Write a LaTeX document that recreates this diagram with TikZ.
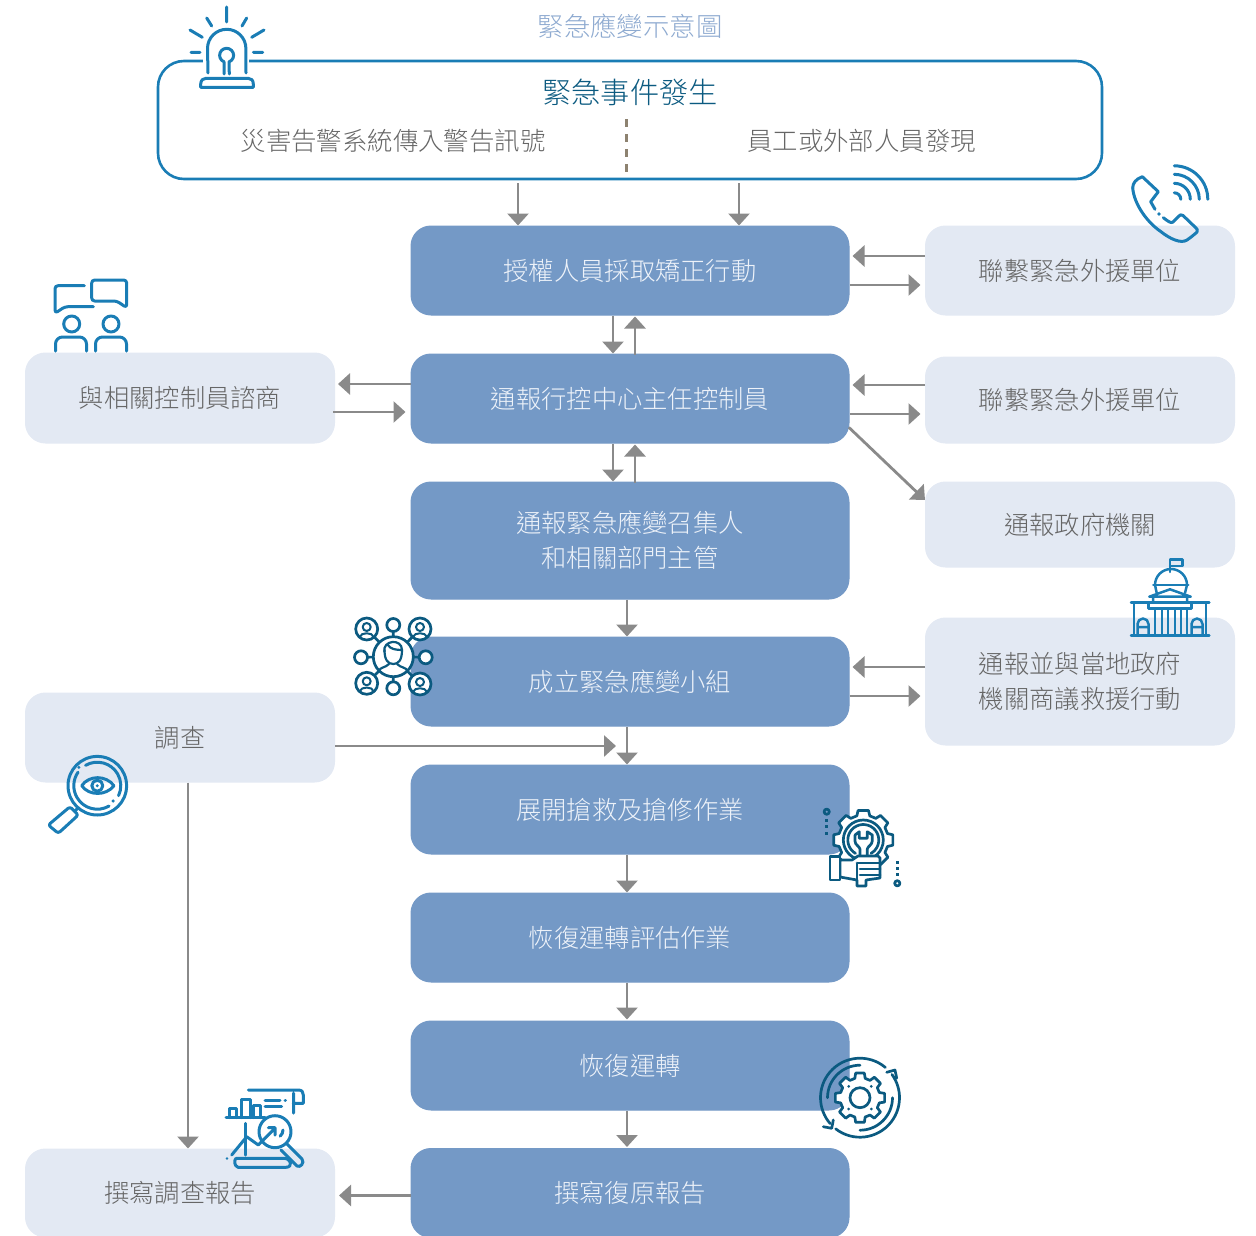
\documentclass[tikz,border=0pt]{standalone}
\usepackage{fontspec}
\setmainfont{Noto Sans CJK TC}[UprightFont=* Light]
\usetikzlibrary{arrows.meta,calc}
\definecolor{boxblue}{HTML}{7499C6}
\definecolor{boxlight}{HTML}{E3E9F3}
\definecolor{arrowgrey}{HTML}{8A8A8A}
\definecolor{textgrey}{HTML}{666666}
\definecolor{iconblue}{HTML}{1A7DB5}
\definecolor{icondark}{HTML}{0B5A80}
\definecolor{titleblue}{HTML}{8EAAD0}
\definecolor{bluetext}{HTML}{EDF2F9}
\definecolor{dashcol}{HTML}{8D8270}
\tikzset{
  x=1pt,y=-1pt,
  bluebox/.style={fill=boxblue,draw=boxblue,line width=1pt,rounded corners=20pt,minimum width=438pt,text=bluetext,inner sep=0pt,align=center,font=\fontsize{25.3}{35}\selectfont},
  lightbox/.style={fill=boxlight,draw=boxlight,line width=1pt,rounded corners=20pt,minimum width=309pt,text=textgrey,inner sep=0pt,align=center,font=\fontsize{25.3}{35}\selectfont},
  arr/.style={draw=arrowgrey,line width=2.8pt,-{Triangle[width=21pt,length=12pt]}},
  lab/.style={inner sep=0pt,text=textgrey,font=\fontsize{25.4}{30}\selectfont},
  iconb/.style={draw=iconblue,line width=3pt,line cap=round,line join=round},
  icond/.style={draw=icondark,line width=2.7pt,line cap=round,line join=round},
  gov/.style={iconb,line width=2.5pt},
}
\begin{document}
\begin{tikzpicture}
\useasboundingbox (0,0) rectangle (1256,1236);
% --- top frame
\node[draw=iconblue,line width=2.6pt,rounded corners=26pt,minimum width=944pt,minimum height=118pt,inner sep=0pt] (top) at (630,120) {};
\node[inner sep=0pt,text=titleblue,font=\fontsize{26.4}{30}\selectfont] (title) at (630,26) {緊急應變示意圖};
\node[inner sep=0pt,text=icondark,font=\fontsize{29.2}{34}\selectfont] (event) at (630,92) {緊急事件發生};
\node[lab] (sys) at (393,140.5) {災害告警系統傳入警告訊號};
\node[lab] (staff) at (861.5,140.5) {員工或外部人員發現};
\coordinate (da) at (626,119.5);
\coordinate (db) at (626,173);
\draw[draw=dashcol,line width=3pt,dash pattern=on 8pt off 7pt] (da) -- (db);
% --- centre column
\node[bluebox,minimum height=89pt] (b1) at (630,270.5) {\raisebox{-1pt}{授權人員採取矯正行動}};
\node[bluebox,minimum height=89pt] (b2) at (630,398.5) {通報行控中心主任控制員};
\node[bluebox,minimum height=117pt] (b3) at (630,540.5) {通報緊急應變召集人\\和相關部門主管};
\node[bluebox,minimum height=89pt] (b4) at (630,681.5) {成立緊急應變小組};
\node[bluebox,minimum height=89pt] (b5) at (630,809.5) {展開搶救及搶修作業};
\node[bluebox,minimum height=89pt] (b6) at (630,937.5) {恢復運轉評估作業};
\node[bluebox,minimum height=89pt] (b7) at (630,1065.5) {恢復運轉};
\node[bluebox,minimum height=89pt] (b8) at (630,1193) {\raisebox{-1pt}{撰寫復原報告}};
% --- right column
\node[lightbox,minimum height=89pt] (r1) at (1080,270.5) {\raisebox{-1pt}{聯繫緊急外援單位}};
\node[lightbox,minimum height=86pt] (r2) at (1080,400) {聯繫緊急外援單位};
\node[lightbox,minimum height=85pt] (r3) at (1080,524.5) {通報政府機關};
\node[lightbox,minimum height=127pt] (r4) at (1080,681.5) {通報並與當地政府\\機關商議救援行動};
% --- left column
\node[lightbox,minimum height=90pt] (l1) at (180,398) {與相關控制員諮商};
\node[lightbox,minimum height=89pt] (l2) at (180,737.5) {調查};
\node[lightbox,minimum height=88pt] (l3) at (180,1193) {\raisebox{-1pt}{撰寫調查報告}};
% --- connectors
\draw[arr] ([xshift=-112pt,yshift=-3pt]top.south) -- ([xshift=-112pt]b1.north);
\draw[arr] ([xshift=109pt,yshift=-3pt]top.south) -- ([xshift=109pt]b1.north);
\draw[arr] ([yshift=14.5pt]r1.west) -- ([yshift=14.5pt,xshift=3pt]b1.east);
\draw[arr] ([yshift=-14.5pt]b1.east) -- ([yshift=-14.5pt,xshift=-4.5pt]r1.west);
\draw[arr] ([xshift=-17pt]b1.south) -- ([xshift=-17pt]b2.north);
\draw[arr] ([xshift=5pt,yshift=-1pt]b2.north) -- ([xshift=5pt,yshift=-1pt]b1.south);
\draw[arr] ([yshift=14.5pt]b2.west) -- ([yshift=14pt,xshift=3pt]l1.east);
\draw[arr] ([yshift=-14pt,xshift=-2pt]l1.east) -- ([yshift=-13.5pt,xshift=-5pt]b2.west);
\draw[arr] ([yshift=15pt]r2.west) -- ([yshift=13.5pt,xshift=3pt]b2.east);
\draw[arr] ([yshift=-15.5pt]b2.east) -- ([yshift=-14pt,xshift=-4.5pt]r2.west);
\draw[arr] ([xshift=-17pt]b2.south) -- ([xshift=-17pt]b3.north);
\draw[arr] ([xshift=5pt,yshift=-1pt]b3.north) -- ([xshift=5pt,yshift=-1pt]b2.south);
\draw[arr,shorten <=-1pt] ([yshift=-29.5pt]b2.east) -- ([yshift=24.5pt]r3.west);
\draw[arr] ([xshift=-3pt]b3.south) -- ([xshift=-3pt]b4.north);
\draw[arr] ([yshift=14.5pt]r4.west) -- ([yshift=14.5pt,xshift=3pt]b4.east);
\draw[arr] ([yshift=-14.5pt]b4.east) -- ([yshift=-14.5pt,xshift=-4.5pt]r4.west);
\draw[arr] ([xshift=-3pt]b4.south) -- ([xshift=-3pt]b5.north);
\coordinate (join) at (616,746);
\draw[arr] ([yshift=-8.5pt]l2.east) -- (join);
\draw[arr] ([xshift=-3pt]b5.south) -- ([xshift=-3pt]b6.north);
\draw[arr] ([xshift=-3pt]b6.south) -- ([xshift=-3pt,yshift=1pt]b7.north);
\draw[arr] ([xshift=-3pt]b7.south) -- ([xshift=-3pt,yshift=1pt]b8.north);
\draw[arr] ([xshift=8pt]l2.south) -- ([xshift=8pt]l3.north);
\draw[arr] ([yshift=-2.5pt]b8.west) -- ([xshift=4pt,yshift=-2.5pt]l3.east);
% --- alarm icon
\fill[white] (203,57) rectangle (249,65);
\draw[iconb] (226.7,7)--(226.7,22) (206.7,18)--(211.7,26) (246.7,18)--(242,26)
  (190,30)--(202.3,37.3) (264,30)--(251.7,37.3) (191,52.3)--(200,52.3) (253.3,52.3)--(262.7,52.3);
\draw[iconb] (208,73)--(207.5,48.5) arc (180:360:19.2) --(246,73);
\draw[iconb] (224,74)--(224,61.8) arc (112:430:7) --(229.3,74);
\draw[iconb] (200.7,87.3)--(200.7,84) .. controls (201,80) and (203,78.3) .. (206,78.3) --(248,78.3) .. controls (251,78.3) and (253.3,80) .. (253.3,84) --(253.3,87.3)--cycle;
% --- phone icon
\draw[iconb] (1155,209.3)--(1150.7,201.7)--(1158.3,191.7)--(1142.3,176.7)
  .. controls (1136,179) and (1132.7,183) .. (1132.7,188)
  .. controls (1134,204) and (1147,222) .. (1160,231)
  .. controls (1170,239) and (1181,244) .. (1187,240)
  .. controls (1190,238) and (1195,234) .. (1197,232)
  .. controls (1198,230) and (1197,229) .. (1196,228)
  --(1183,215.5) .. controls (1181,214) and (1180,215) .. (1179,216)
  --(1173,222) .. controls (1171,223.5) and (1169,222) .. (1163.3,217.7);
\fill[iconblue] (1159,214) circle[radius=1.8];
\foreach \r in {6.5,16,25,33.5}{\draw[iconb] (1174.3,199.3-\r) arc (-90:0:\r);}
% --- consult icon
\begin{scope}[rounded corners=3pt]
\draw[iconb] (84.3,285.7)--(55,285.7)--(55,313.3)--(65,306.7)--(93.3,306.7);
\draw[iconb] (91.7,280)--(126.7,280)--(126.7,307.7)--(116.7,301)--(91.7,301)--cycle;
\end{scope}
\draw[iconb] (71.7,324) circle[radius=8] (111,324) circle[radius=8];
\begin{scope}[rounded corners=7pt]
\draw[iconb] (55.5,351)--(55.5,337)--(86.5,337)--(86.5,351);
\draw[iconb] (95.5,351)--(95.5,337)--(126.5,337)--(126.5,351);
\end{scope}
% --- team icon
\coordinate (tc) at (393.3,656.7);
\draw[icond] (tc)--(366.7,629) (tc)--(420,629) (tc)--(366.7,683.3) (tc)--(420,684) (tc)--(393.3,625) (tc)--(393.3,688.3) (tc)--(361,657.3) (tc)--(425.7,657.3);
\draw[icond,fill=white] (tc) circle[radius=20];
\draw[icond,fill=white] (393.3,625) circle[radius=6.5] (361,657.3) circle[radius=6.5] (425.7,657.3) circle[radius=6.5] (393.3,688.3) circle[radius=6.5];
\foreach \px/\py in {366.7/629,420/629,366.7/683.3,420/684}{
  \draw[icond,fill=white] (\px,\py) circle[radius=11];
  \draw[icond,line width=2pt] (\px,\py-2) circle[radius=4];
  \draw[icond,line width=2pt] (\px-7,\py+8) .. controls (\px-6,\py+3) and (\px+6,\py+3) .. (\px+7,\py+8);
}
\draw[icond,line width=2.2pt] (384.5,650) .. controls (384.5,660) and (388,664) .. (393.3,664) .. controls (398.6,664) and (402,660) .. (402,650);
\draw[icond,line width=2.2pt] (384.5,652) .. controls (382,640) and (402,638) .. (402,650) .. controls (396,650) and (390,649) .. (388,645);
\draw[icond,line width=2.2pt] (379,671) .. controls (380,667) and (385,668) .. (389,664) (407.5,671) .. controls (406,667) and (401,668) .. (397,664);
% --- government icon
\draw[gov] (1170,572)--(1170,559.3)--(1182.7,559.3)--(1182.7,566)--(1170,566);
\draw[gov] (1156.7,593)--(1155,585) arc (180:360:16) --(1185,593);
\draw[gov] (1153.3,585)--(1188.3,585);
\draw[gov] (1149.3,596.7)--(1170,589.3)--(1190.7,596.7)--cycle (1153,597)--(1153,602) (1187,597)--(1187,602);
\draw[gov] (1131,602.3)--(1209.3,602.3) (1148.3,602.3)--(1148.3,608.3)--(1191.7,608.3)--(1191.7,602.3);
\draw[gov] (1134,602.3)--(1134,635.7) (1206,602.3)--(1206,635.7) (1131,635.7)--(1209.3,635.7);
\foreach \cx in {1155,1162,1168,1175,1181,1187}{\draw[gov] (\cx,608.3)--(\cx,635.7);}
\draw[gov] (1137.5,635.7)--(1137.5,624) arc (180:360:5.5) --(1148.5,635.7) (1137.5,627)--(1148.5,627);
\draw[gov] (1191.5,635.7)--(1191.5,624) arc (180:360:5.5) --(1202.5,635.7) (1191.5,627)--(1202.5,627);
% --- magnifier icon
\coordinate (mg) at (97.3,785.7);
\draw[iconb] (mg) circle[radius=29.3];
\draw[iconb] (mg) ++(-120:23.5) arc (-120:25:23.5);
\draw[iconb] (mg) ++(60:23.5) arc (60:215:23.5);
\fill[iconblue] ($(mg)+(44:22)$) circle[radius=1.8];
\fill[iconblue] ($(mg)+(-135:26)$) circle[radius=1.6];
\draw[iconb] (81.7,785.7) .. controls (89,775) and (106,775) .. (114,785.7) .. controls (106,796) and (89,796) .. (81.7,785.7) -- cycle;
\draw[iconb] (mg) circle[radius=5.5];
\fill[iconblue] (mg) circle[radius=1.6];
\draw[iconb] (78,808)--(75.5,810.5);
\draw[iconb,rounded corners=2.5pt] (70,806.7)--(78.3,815)--(58.3,833.3)--(48.3,825)--cycle;
% --- tool icon
\coordinate (tg) at (863.3,840);
\draw[icond,fill=white] ($(tg)+(-15:25)$) \foreach \a in {0,45,...,315}{ -- ($(tg)+(\a-15:25)$) -- ($(tg)+(\a-10:30)$) -- ($(tg)+(\a+10:30)$) -- ($(tg)+(\a+15:25)$)} -- cycle;
\draw[icond] (tg) circle[radius=20];
\draw[icond] (tg) ++(120:15.5) arc (120:420:15.5);
\draw[icond] (855,835)--(859.3,831.7)--(859.3,838.3)--(867.3,838.3)--(867.3,831.7)--(872.3,835)--(872.3,841) .. controls (872,845) and (868,846) .. (867.3,849)--(867.3,856) (855,835)--(855,841) .. controls (855,845) and (859.3,846) .. (859.9,849)--(859.9,856);
\draw[icond,fill=white] (840,860)--(852,860)--(858,856)--(878,856)--(880,858)--(880,878)--(866,880)--(866,886)--(857,886)--(857,880)--(840,877)--cycle;
\draw[icond,fill=white] (830,856.7) rectangle (840,880);
\draw[icond] (857,863)--(880,863) (860,869)--(880,869) (860,875)--(880,875) (857,863)--(857,880);
\draw[icond] (826.7,811.7) circle[radius=2.6] (897.3,883.3) circle[radius=2.6];
\foreach \yy in {820,826.5,833}{\fill[icondark] (825.2,\yy-1.5) rectangle (828.2,\yy+1.5);}
\foreach \yy in {862.7,868.5,874.3}{\fill[icondark] (895.8,\yy-1.5) rectangle (898.8,\yy+1.5);}
% --- recovery gear icon
\coordinate (rg) at (860,1097.7);
\draw[icond] (rg) ++(-50:39.5) arc (-50:-221:39.5);
\draw[icond] (rg) ++(128:39.5) arc (128:-36:39.5);
\draw[icond] (rg) ++(-90:32.5) arc (-90:-180:32.5);
\draw[icond] (rg) ++(90:32.5) arc (90:0:32.5);
\draw[icond] (886.7,1072.3)--(895,1070)--(896.7,1078.3);
\draw[icond] (823.3,1126.7)--(831.7,1128.3)--(833.3,1120);
\draw[icond,fill=white] ($(rg)+(-15:20)$) \foreach \a in {0,45,...,315}{ -- ($(rg)+(\a-15:20)$) -- ($(rg)+(\a-10:25)$) -- ($(rg)+(\a+10:25)$) -- ($(rg)+(\a+15:20)$)} -- cycle;
\draw[icond] (rg) circle[radius=10];
\foreach \a in {22.5,112.5,202.5,292.5}{\fill[icondark] ($(rg)+(\a+22.5:16)$) circle[radius=1.5];}
% --- report icon
\draw[iconb] (248.3,1090)--(298.3,1090) .. controls (302,1090) and (303.3,1092) .. (303.3,1095)--(303.3,1103.3)--(293.3,1103.3) (293.5,1093)--(293.5,1113);
\draw[iconb] (226,1117.7)--(265,1117.7) (229,1117.7)--(229,1108.3)--(236.7,1108.3)--(236.7,1117.7) (241.7,1117.7)--(241.7,1099.3)--(250,1099.3)--(250,1117.7) (253.3,1117.7)--(253.3,1105)--(260,1105)--(260,1117.7);
\draw[iconb] (265,1100)--(280,1100) (285,1100)--(285.5,1100) (265,1106.7)--(281.7,1106.7);
\draw[iconb] (245,1123.3)--(245,1155);
\draw[iconb] (281,1150)--(297,1166) .. controls (300,1168) and (305,1163) .. (302,1159)--(287,1144);
\draw[iconb,fill=white] (275,1131.7) circle[radius=16];
\draw[iconb] (231.7,1155)--(246.7,1136.7)--(258.3,1145)--(275,1128.3) (268.3,1127.7)--(275,1127.7)--(275,1135);
\draw[iconb] (283,1130) arc (0:50:8);
\fill[iconblue] (227,1158.5) circle[radius=1.4];
\draw[iconb] (236,1158.3)--(283,1158.3) (236,1158.3) .. controls (234,1160) and (234,1166) .. (238,1167.3)--(286,1167.3) .. controls (293,1167.3) and (292,1158) .. (283,1158.3);
\end{tikzpicture}
\end{document}
